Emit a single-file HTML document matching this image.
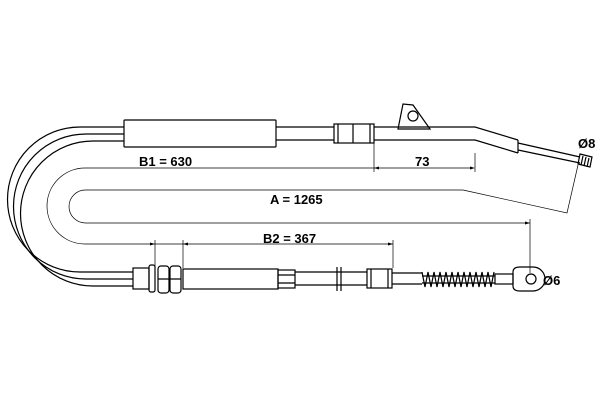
<!DOCTYPE html>
<html><head><style>html,body{margin:0;padding:0;background:#fff}svg{display:block}</style></head><body>
<svg width="600" height="400" viewBox="0 0 600 400" xmlns="http://www.w3.org/2000/svg" font-family="Liberation Sans, sans-serif">
<g fill="none" stroke="#000" stroke-width="1.2">
<path d="M124 127 H80 A72.5 72.5 0 0 0 80 272 H133"/>
<path d="M124 134 H86 A72.5 72.5 0 0 0 86 279 H133"/>
<path d="M124 141 H93 A72.5 72.5 0 0 0 93 286 H133"/>
<rect x="124" y="120" width="152" height="27" rx="1"/>
<path d="M276 127 H334 M276 140 H334"/>
<rect x="334" y="124" width="40" height="19"/>
<path d="M353 124 V143 M338 124 V143 M370 124 V143"/>
<path d="M374 127 H475 L518 140 M374 140 H475 L518 153"/>
<path d="M518 140 L518 153"/>
<path d="M518 143 L580 157 M518 150 L580 163"/>
<path d="M580 154 L592 157 L590 167 L578 164 Z"/>
<path d="M583 156 L581 165 M586 157 L584 166 M589 158 L587 167"/>
<path d="M398 129 L403 104 L413 105 L430 129 Z"/>
<circle cx="413" cy="116" r="5"/>
<rect x="133" y="268" width="16" height="21"/>
<rect x="149" y="265" width="6" height="27" rx="2"/>
<rect x="158" y="266" width="11" height="27" rx="3"/>
<rect x="170" y="266" width="11" height="27" rx="3"/>
<path d="M158 279 H181"/>
<rect x="183" y="269" width="95" height="20"/>
<rect x="278" y="270" width="17" height="18"/>
<path d="M278 275 H295 M278 283 H295"/>
<path d="M295 272 H367 M295 285 H367"/>
<path d="M337 267 V291 M341 267 V291"/>
<rect x="367" y="269" width="25" height="19"/>
<path d="M371 269 V288 M388 269 V288"/>
<path d="M392 273 H422 M392 284 H422"/>
<path d="M422 272 L425 287 L428 272 L431 287 L434 272 L437 287 L440 272 L443 287 L446 272 L449 287 L452 272 L455 287 L458 272 L461 287 L464 272 L467 287 L470 272 L473 287 L476 272 L479 287 L482 272 L485 287 L488 272 L491 287 L494 272"/>
<path d="M422 276 H495 M422 283 H495"/>
<rect x="495" y="274" width="18" height="10"/>
<path d="M513 272 Q513 267 520 267 H533 A12 12 0 0 1 533 291 H520 Q513 291 513 286 Z"/>
<circle cx="531" cy="279" r="5"/>
</g>
<g fill="none" stroke="#000" stroke-width="0.7">
<path d="M470 168 H85 A38 38 0 0 0 85 244 H393"/>
<path d="M463 190 H85.5 A16.5 16.5 0 0 0 85.5 223 H530"/>
<path d="M463 190 L567 213 L578 165"/>
<path d="M374 143 V172 M475 153 V172"/>
<path d="M155 240 V280 M183 240 V268 M393 240 V268 M530 219 V273"/>
</g>
<g fill="#000">
<path d="M155 244 l-5 -1.5 v3 z M183 244 l5 -1.5 v3 z M393 244 l-5 -1.5 v3 z M530 223 l-5 -1.5 v3 z M374 168 l5 -1.5 v3 z M475 168 l-5 -1.5 v3 z"/>
</g>
<g fill="#000" font-weight="bold" font-size="13">
<text x="139" y="166">B1 = 630</text>
<text x="415" y="166">73</text>
<text x="270" y="204">A = 1265</text>
<text x="263" y="243">B2 = 367</text>
<text x="578" y="148">Ø8</text>
<text x="543" y="285">Ø6</text>
</g>
</svg>
</body></html>
